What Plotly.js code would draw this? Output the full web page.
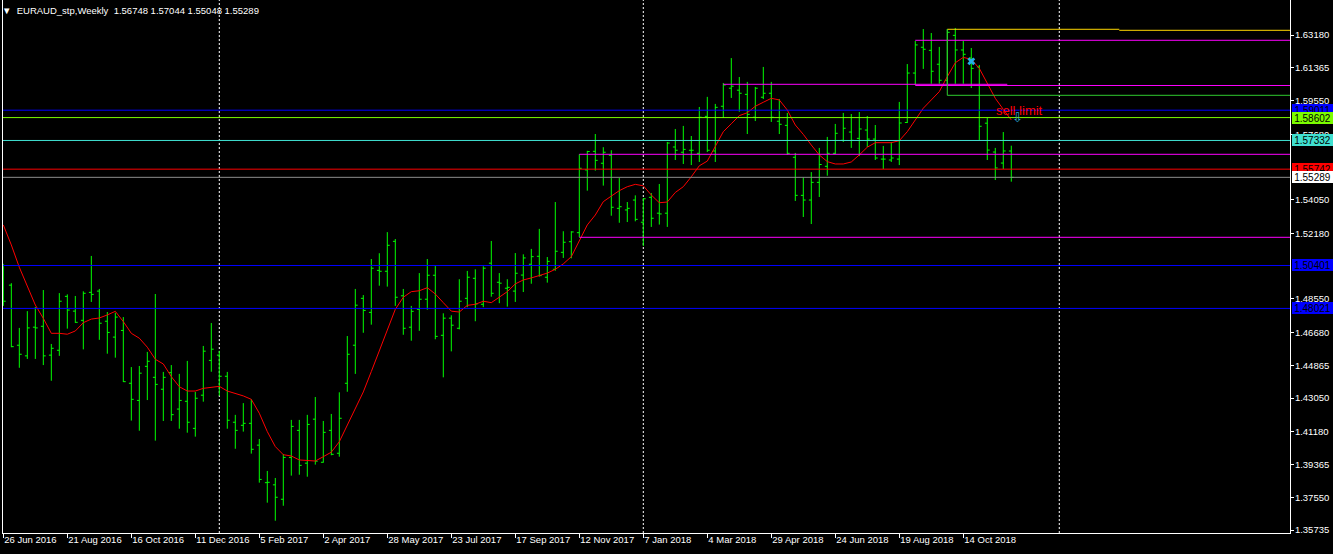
<!DOCTYPE html>
<html><head><meta charset="utf-8">
<script src="https://cdn.plot.ly/plotly-3.0.1.min.js"></script>
<style>html,body{margin:0;padding:0;background:#000;}#chart{width:1333px;height:554px;}</style>
</head><body><div id="chart"></div>
<script>
// ---- data (weekly EURAUD bars, first bar = week of 26 Jun 2016) ----
const firstWeekUTC = Date.UTC(2016, 5, 26);
const opens = [1.5027,1.4931,1.4598,1.4539,1.4698,1.4703,1.4543,1.4570,1.4869,1.4787,
1.4736,1.4891,1.4898,1.4731,1.4643,1.4680,1.4387,1.4292,1.4481,1.4420,
1.4354,1.4446,1.4244,1.4287,1.4137,1.4321,1.4514,1.4543,1.4426,1.4171,
1.4154,1.4165,1.4044,1.3836,1.3824,1.3744,1.3976,1.4126,1.3944,1.4188,
1.3949,1.4126,1.3999,1.4387,1.4598,1.4858,1.4780,1.5013,1.5008,1.5174,
1.4872,1.4698,1.4797,1.4853,1.4986,1.4653,1.4748,1.4692,1.4858,1.4969,
1.4825,1.5053,1.4947,1.4914,1.4898,1.4987,1.5047,1.5091,1.4975,1.5019,
1.5113,1.5172,1.5222,1.5570,1.5673,1.5607,1.5651,1.5357,1.5348,1.5403,
1.5280,1.5418,1.5330,1.5330,1.5697,1.5668,1.5679,1.5662,1.5867,1.5675,
1.5923,1.6023,1.6012,1.5989,1.5862,1.5973,1.5995,1.5840,1.5817,1.5640,
1.5429,1.5403,1.5501,1.5590,1.5662,1.5734,1.5780,1.5745,1.5791,1.5741,
1.5630,1.5625,1.5630,1.5833,1.6107,1.6250,1.6233,1.6156,1.6067,1.6316,
1.6235,1.6191,1.6141,1.5829,1.5669,1.5608,1.56748];
const highs = [1.5049,1.4942,1.4694,1.4787,1.4810,1.4904,1.4605,1.4887,1.4880,1.4871,
1.4897,1.5093,1.4910,1.4782,1.4778,1.4754,1.4477,1.4483,1.4561,1.4882,
1.4450,1.4488,1.4439,1.4511,1.4339,1.4594,1.4721,1.4567,1.4450,1.4212,
1.4277,1.4298,1.4078,1.3901,1.3862,1.3995,1.4184,1.4184,1.4212,1.4311,
1.4178,1.4217,1.4337,1.4649,1.4910,1.4876,1.5076,1.5108,1.5225,1.5187,
1.4910,1.4816,1.4998,1.5076,1.5037,1.4775,1.4764,1.4964,1.5010,1.5019,
1.5036,1.5176,1.4998,1.4964,1.5109,1.5102,1.5132,1.5243,1.5087,1.5392,
1.5230,1.5230,1.5657,1.5676,1.5769,1.5696,1.5679,1.5525,1.5392,1.5429,
1.5414,1.5442,1.5492,1.5725,1.5797,1.5814,1.5758,1.5919,1.5975,1.5936,
1.6052,1.6190,1.6085,1.6058,1.6030,1.6141,1.6058,1.5963,1.5886,1.5664,
1.5529,1.5558,1.5692,1.5753,1.5825,1.5886,1.5880,1.5891,1.5869,1.5819,
1.5703,1.5725,1.5947,1.6157,1.6285,1.6351,1.6329,1.6252,1.6351,1.6357,
1.6285,1.6246,1.6152,1.5858,1.5692,1.5780,1.57044];
const lows = [1.4816,1.4587,1.4473,1.4522,1.4522,1.4488,1.4401,1.4539,1.4690,1.4722,
1.4575,1.4838,1.4628,1.4551,1.4529,1.4394,1.4180,1.4124,1.4294,1.4069,
1.4178,1.4178,1.4135,1.4113,1.4091,1.4285,1.4451,1.4318,1.4135,1.4024,
1.4119,1.3997,1.3836,1.3725,1.3625,1.3708,1.3875,1.3880,1.3869,1.3936,
1.3947,1.3988,1.3980,1.4340,1.4439,1.4667,1.4712,1.4928,1.4923,1.4816,
1.4656,1.4623,1.4678,1.4795,1.4631,1.4420,1.4564,1.4686,1.4809,1.4731,
1.4809,1.4867,1.4831,1.4812,1.4838,1.4893,1.4939,1.4978,1.4945,1.5011,
1.5082,1.5080,1.5197,1.5455,1.5566,1.5483,1.5316,1.5277,1.5281,1.5285,
1.5148,1.5254,1.5267,1.5254,1.5625,1.5603,1.5597,1.5614,1.5669,1.5614,
1.5858,1.5969,1.5893,1.5769,1.5841,1.5963,1.5836,1.5769,1.5653,1.5398,
1.5309,1.5270,1.5420,1.5538,1.5658,1.5725,1.5692,1.5647,1.5697,1.5625,
1.5575,1.5614,1.5597,1.5830,1.6041,1.6130,1.6048,1.6048,1.6041,1.6048,
1.6048,1.6024,1.5736,1.5625,1.5514,1.5575,1.55048];
const closes = [1.4842,1.4590,1.4548,1.4694,1.4694,1.4539,1.4581,1.4842,1.4793,1.4725,
1.4886,1.4880,1.4720,1.4669,1.4754,1.4396,1.4298,1.4443,1.4509,1.4381,
1.4420,1.4213,1.4292,1.4171,1.4304,1.4565,1.4576,1.4426,1.4182,1.4126,
1.4165,1.4021,1.3854,1.3838,1.3755,1.3976,1.4148,1.3932,1.4159,1.3955,
1.4115,1.3993,1.4193,1.4548,1.4820,1.4791,1.5025,1.5008,1.5152,1.4864,
1.4692,1.4786,1.4853,1.4986,1.4647,1.4748,1.4709,1.4842,1.4975,1.4827,
1.5025,1.4886,1.4942,1.4919,1.4997,1.5082,1.5089,1.4984,1.5063,1.5119,
1.5169,1.5226,1.5579,1.5672,1.5623,1.5668,1.5363,1.5366,1.5357,1.5296,
1.5410,1.5302,1.5326,1.5719,1.5679,1.5684,1.5679,1.5862,1.5679,1.5917,
1.6041,1.6034,1.5995,1.5878,1.6023,1.5995,1.5862,1.5823,1.5662,1.5429,
1.5403,1.5501,1.5600,1.5662,1.5773,1.5801,1.5734,1.5797,1.5741,1.5636,
1.5630,1.5636,1.5830,1.6107,1.6263,1.6239,1.6117,1.6067,1.6333,1.6235,
1.6211,1.6133,1.5812,1.5680,1.5581,1.5675,1.55289];
const maValues = [1.5265,1.5154,1.5030,1.4923,1.4821,1.4747,1.4664,1.4664,1.4659,1.4677,
1.4723,1.4743,1.4749,1.4766,1.4786,1.4729,1.4664,1.4637,1.4587,1.4520,
1.4494,1.4424,1.4368,1.4344,1.4344,1.4359,1.4365,1.4370,1.4344,1.4332,
1.4317,1.4298,1.4221,1.4119,1.4036,1.3991,1.3984,1.3962,1.3958,1.3956,
1.3980,1.4005,1.4063,1.4156,1.4250,1.4339,1.4452,1.4572,1.4682,1.4797,
1.4864,1.4895,1.4900,1.4917,1.4882,1.4834,1.4787,1.4782,1.4819,1.4825,
1.4842,1.4834,1.4867,1.4895,1.4938,1.4960,1.4971,1.4986,1.4998,1.5019,
1.5049,1.5089,1.5181,1.5265,1.5320,1.5394,1.5425,1.5455,1.5477,1.5490,
1.5482,1.5431,1.5388,1.5392,1.5445,1.5477,1.5532,1.5593,1.5619,1.5699,
1.5782,1.5826,1.5871,1.5887,1.5923,1.5945,1.5967,1.5958,1.5902,1.5819,
1.5767,1.5708,1.5653,1.5616,1.5603,1.5603,1.5614,1.5653,1.5696,1.5721,
1.5721,1.5721,1.5732,1.5782,1.5847,1.5912,1.5958,1.6004,1.6087,1.6164,
1.6194,1.6183,1.6133,1.6050,1.5967,1.5906,1.5847];

const tickDates = ['2016-06-26','2016-08-21','2016-10-16','2016-12-11','2017-02-05','2017-04-02',
'2017-05-28','2017-07-23','2017-09-17','2017-11-12','2018-01-07','2018-03-04','2018-04-29',
'2018-06-24','2018-08-19','2018-10-14'];
const tickLabels = ['26 Jun 2016','21 Aug 2016','16 Oct 2016','11 Dec 2016','5 Feb 2017','2 Apr 2017',
'28 May 2017','23 Jul 2017','17 Sep 2017','12 Nov 2017','7 Jan 2018','4 Mar 2018','29 Apr 2018',
'24 Jun 2018','19 Aug 2018','14 Oct 2018'];
const yTickValues = [1.63180,1.61365,1.59550,1.57680,1.54050,1.52180,1.48550,
1.46680,1.44865,1.43050,1.41180,1.39365,1.37550,1.35735];
const yTickLabels = ['1.63180','1.61365','1.59550','1.57680','1.54050','1.52180',
'1.48550','1.46680','1.44865','1.43050','1.41180','1.39365','1.37550','1.35735'];

// horizontal lines across the whole chart, with their price labels
const fullLevels = [1.59011, 1.58602, 1.57332, 1.55742, 1.55289, 1.50401, 1.48021];
const fullColors = ['#0000ff','#7cfc00','#40e0d0','#ff0000','#8c8c8c','#0000ff','#0000ff'];
const labelColors = ['#0000ff','#7cfc00','#40e0d0','#ff0000','#ffffff','#0000ff','#0000ff'];
const labelTexts = ['1.59011','1.58602','1.57332','1.55742','1.55289','1.50401','1.48021'];

// partial lines (start date, end date or 'edge')
const segPrices = [1.56566, 1.51964, 1.62887, 1.60447, 1.60381, 1.63497, 1.63441, 1.59837];
const segStarts = ['2017-11-12','2017-11-12','2018-09-02','2018-03-18','2018-09-02','2018-09-30','2019-02-27 12:00','2018-09-30'];
const segEnds = ['edge','edge','edge','2018-11-21 12:00','edge','2019-02-27 12:00','edge','edge'];
const segColors = ['#ff00ff','#ff00ff','#ff00ff','#ff00ff','#ff00ff','#ffd700','#ffd700','#2ecc2e'];
const rectEdgeDate = '2018-09-30';
const rectEdgeLow = 1.59837, rectEdgeHigh = 1.63497;

const separators = ['2017-01-01','2018-01-07','2019-01-06'];
const crossDate = ['2018-10-21'], crossPrice = [1.6172];
const orderLabel = {date:'2018-12-02', price:1.5900, text:'sell limit'};
const orderArrow = {date:'2018-11-30', price:1.5859};
const headerText = '\u25BC\u00a0\u00a0EURAUD_stp,Weekly\u00a0\u00a01.56748 1.57044 1.55048 1.55289';

// ---- build ----
const WEEK = 7 * 86400000;
const dates = opens.map((_, i) => new Date(firstWeekUTC + i * WEEK).toISOString().slice(0, 10));
const toStr = ms => new Date(ms).toISOString().replace('T', ' ').slice(0, 19);
const xStart = toStr(firstWeekUTC - 0.04 * WEEK);
const xEnd = toStr(firstWeekUTC + 160.84 * WEEK);
const FONT = "'Liberation Sans', Arial, sans-serif";
const FS = 9.5;

const traces = [
  {type:'ohlc', x:dates, open:opens, high:highs, low:lows, close:closes,
   increasing:{line:{color:'#00ff00', width:1}}, decreasing:{line:{color:'#00ff00', width:1}},
   tickwidth:0.3, hoverinfo:'skip', showlegend:false},
  {type:'scatter', mode:'lines', x:dates, y:maValues, line:{color:'#ff0000', width:1},
   hoverinfo:'skip', showlegend:false},
  {type:'scatter', mode:'markers', x:crossDate, y:crossPrice,
   marker:{symbol:'x', size:7, color:'#22b0e6', line:{width:0}}, hoverinfo:'skip', showlegend:false}
];

const shapes = [];
separators.forEach(d => shapes.push({type:'line', layer:'below', xref:'x', yref:'paper', x0:d, x1:d, y0:0, y1:1,
  line:{color:'#ffffff', width:1, dash:'2px,2px'}}));
fullLevels.forEach((p, i) => shapes.push({type:'line', xref:'x', yref:'y', x0:xStart, x1:xEnd, y0:p, y1:p,
  line:{color:fullColors[i], width:1}}));
segPrices.forEach((p, i) => shapes.push({type:'line', xref:'x', yref:'y', x0:segStarts[i],
  x1:segEnds[i] === 'edge' ? xEnd : segEnds[i], y0:p, y1:p, line:{color:segColors[i], width:1}}));
shapes.push({type:'line', xref:'x', yref:'y', x0:rectEdgeDate, x1:rectEdgeDate, y0:rectEdgeLow, y1:rectEdgeHigh,
  line:{color:'#2ecc2e', width:1}});

const annotations = [];
fullLevels.forEach((p, i) => annotations.push({xref:'paper', yref:'y', x:1, xshift:2, y:p, xanchor:'left', yanchor:'middle',
  text:labelTexts[i], showarrow:false, bgcolor:labelColors[i], width:41, height:12, borderpad:0, borderwidth:0,
  align:'center', font:{family:FONT, size:10, color:'#000000'}}));
annotations.push({xref:'x', yref:'y', x:orderLabel.date, y:orderLabel.price, text:orderLabel.text, showarrow:false,
  xanchor:'center', yanchor:'middle', font:{family:FONT, size:13, color:'#ff0000'}});
annotations.push({xref:'x', yref:'y', x:orderArrow.date, y:orderArrow.price, text:'\u21E9', showarrow:false,
  xanchor:'center', yanchor:'middle', font:{family:'DejaVu Sans', size:13, color:'#2aa8d8'}});

const layout = {
  width:1333, height:554, autosize:false,
  paper_bgcolor:'#000000', plot_bgcolor:'#000000',
  margin:{l:3, r:43, t:0, b:21, pad:0},
  showlegend:false,
  title:{text:headerText, xref:'container', yref:'container', x:2/1333, y:1 - 10.5/554,
    xanchor:'left', yanchor:'middle', font:{family:FONT, size:FS, color:'#ffffff'}},
  xaxis:{type:'date', range:[xStart, xEnd], rangeslider:{visible:false}, showgrid:false, zeroline:false,
    showline:true, linecolor:'#ffffff', linewidth:1, ticks:'outside', ticklen:4, tickcolor:'#ffffff',
    tickvals:tickDates, ticktext:tickLabels, tickangle:0, ticklabelposition:'outside right', ticklabeloverflow:'allow',
    ticklabelstandoff:-2,
    tickfont:{family:FONT, size:FS, color:'#ffffff'}, fixedrange:true},
  yaxis:{side:'right', range:[1.35569, 1.65121], showgrid:false, zeroline:false,
    showline:true, mirror:true, linecolor:'#ffffff', linewidth:1, ticks:'outside', ticklen:3, tickcolor:'#ffffff',
    tickvals:yTickValues, ticktext:yTickLabels, ticklabelstandoff:-1,
    tickfont:{family:FONT, size:FS, color:'#ffffff'}, fixedrange:true},
  shapes:shapes, annotations:annotations
};
Plotly.newPlot('chart', traces, layout, {staticPlot:true, displayModeBar:false});
</script></body></html>
